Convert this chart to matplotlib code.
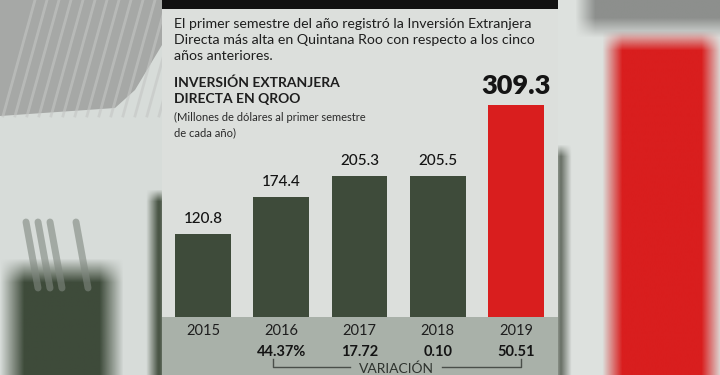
import numpy as np
import matplotlib.pyplot as plt
from matplotlib.colors import to_rgb
from matplotlib.patches import Rectangle, Polygon

# --- data ---
years = ["2015", "2016", "2017", "2018", "2019"]
values = [120.8, 174.4, 205.3, 205.5, 309.3]
variation = ["", "44.37%", "17.72", "0.10", "50.51"]

intro_lines = [
    "El primer semestre del año registró la Inversión Extranjera",
    "Directa más alta en Quintana Roo con respecto a los cinco",
    "años anteriores.",
]
title_lines = ["INVERSIÓN EXTRANJERA", "DIRECTA EN QROO"]
subtitle_lines = ["(Millones de dólares al primer semestre", "de cada año)"]

GREEN = "#3e4b3a"
RED = "#d91e1e"
bar_colors = [GREEN, GREEN, GREEN, GREEN, RED]

plt.rcParams['font.family'] = ['Lato', 'DejaVu Sans']

W, H = 720, 375
fig = plt.figure(figsize=(7.2, 3.75), dpi=100)

# --- background (pixel coords) ---
bg = fig.add_axes([0, 0, 1, 1])
bg.set_xlim(0, W)
bg.set_ylim(H, 0)
bg.axis('off')


def soft_block(x0, x1, y0, y1, color, blur=8, alpha=1.0):
    # blurry photo-like block drawn as an RGBA image with soft edges
    xs = np.arange(x0 - 2 * blur, x1 + 2 * blur)
    ys = np.arange(y0 - 2 * blur, y1 + 2 * blur)
    ax_ = np.clip((np.minimum(xs - x0, x1 - xs) + blur) / (2 * blur), 0, 1)
    ay_ = np.clip((np.minimum(ys - y0, y1 - ys) + blur) / (2 * blur), 0, 1)
    a = np.outer(ay_, ax_) * alpha
    img = np.zeros((len(ys), len(xs), 4))
    img[..., :3] = to_rgb(color)
    img[..., 3] = a
    bg.imshow(img, extent=(xs[0], xs[-1], ys[-1], ys[0]), interpolation='bilinear',
              zorder=1)


bg.add_patch(Rectangle((0, 0), W, H, color="#d7dcd9", lw=0, zorder=0))

# left side: grey brush strokes on top, green blob at bottom
bg.add_patch(Polygon([(0, 0), (162, 0), (162, 45), (135, 90), (115, 108),
                      (0, 116)], closed=True, color="#a6a8a6", lw=0, zorder=1))
for x0 in range(3, 170, 12):
    bg.plot([x0, x0 + 32], [116, 0], color="#c4c6c4", lw=2, alpha=0.6, zorder=1)
soft_block(12, 112, 270, 390, GREEN, blur=12)
for x0 in (26, 38, 50, 76):
    bg.plot([x0, x0 + 12], [222, 288], color="#808880", lw=5, alpha=0.6,
            zorder=2, solid_capstyle='round')
soft_block(152, 166, 195, 390, "#4a5646", blur=6)

# right side: red band with grey strokes above
bg.add_patch(Rectangle((558, 0), W - 558, H, color="#dde1de", lw=0, zorder=0))
soft_block(612, 712, 40, 400, RED, blur=10)
soft_block(585, 730, -20, 28, "#7f817f", blur=10, alpha=0.85)
soft_block(556, 566, 150, 400, "#3d4639", blur=6, alpha=0.8)

# main panel
bg.add_patch(Rectangle((162, 0), 396, H, color="#dcdfdc", lw=0, zorder=3))
bg.add_patch(Rectangle((162, 317), 396, H - 317, color="#a9b1a9", lw=0, zorder=3))
bg.add_patch(Rectangle((162, 0), 396, 9, color="#111111", lw=0, zorder=3))


# --- header texts ---
def px(x, y):
    return x / W, 1 - y / H


for line, yb in zip(intro_lines, [28, 44, 60]):
    fig.text(*px(174, yb), line, fontsize=10.2, color="#1e1e1e",
             va='baseline', ha='left')
for line, yb in zip(title_lines, [87, 103]):
    fig.text(*px(174, yb), line, fontsize=10, fontweight='bold',
             color="#1e1e1e", va='baseline', ha='left')
for line, yb in zip(subtitle_lines, [121, 136]):
    fig.text(*px(174, yb), line, fontsize=8, color="#2a2a2a",
             va='baseline', ha='left')

# --- bars ---
ax = fig.add_axes([164 / W, 58 / H, 391 / W, 240 / H])
ax.patch.set_alpha(0)
ax.set_xlim(-0.5, 4.5)
ax.set_ylim(0, 350)
ax.bar(range(len(values)), values, width=0.716, color=bar_colors)
for s in ax.spines.values():
    s.set_visible(False)
ax.set_yticks([])
ax.set_xticks([])

for i, v in enumerate(values):
    last = i == len(values) - 1
    ax.annotate(f"{v:.1f}", (i, v), xytext=(0, 5 if last else 6),
                textcoords='offset points', ha='center', va='bottom',
                fontsize=19.5 if last else 11,
                fontweight='heavy' if last else 'medium', color="#141414")
    ax.annotate(years[i], (i, 0), xytext=(0, -5), textcoords='offset points',
                ha='center', va='top', fontsize=10.5, color="#1e1e1e")
    if variation[i]:
        ax.annotate(variation[i], (i, 0), xytext=(0, -20),
                    textcoords='offset points', ha='center', va='top',
                    fontsize=10.5, fontweight='bold', color="#141414")

# bracket under the variation values
lc = "#4a4f4a"
bg.plot([273, 273, 350], [359, 367, 367], color=lc, lw=1, zorder=4)
bg.plot([442, 521, 521], [367, 367, 359], color=lc, lw=1, zorder=4)
fig.text(*px(396, 369), "VARIACIÓN", fontsize=10, color="#2e332e",
         ha='center', va='center')

fig.savefig("out.png", dpi=100)
